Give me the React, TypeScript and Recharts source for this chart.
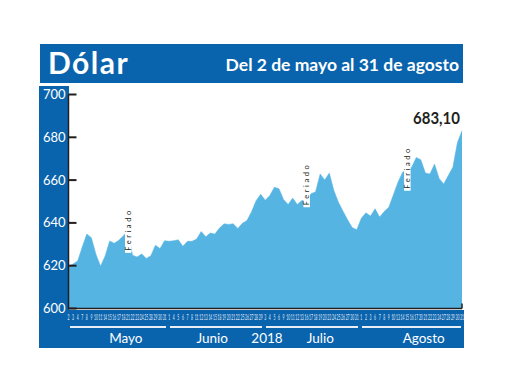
import { Area, AreaChart, ReferenceDot, XAxis, YAxis } from 'recharts'

// business days shown on the axis, per month
const months = ['Mayo', 'Junio', 'Julio', 'Agosto']
const monthNums = [5, 6, 7, 8]
const mayDays = [2, 3, 4, 7, 8, 9, 10, 11, 14, 15, 16, 17, 18, 21, 22, 23, 24, 25, 28, 29, 30, 31]
const junDays = [1, 4, 5, 6, 7, 8, 11, 12, 13, 14, 15, 18, 19, 20, 21, 22, 25, 26, 27, 28, 29]
const julDays = [3, 4, 5, 6, 9, 10, 11, 12, 13, 16, 17, 18, 19, 20, 23, 24, 25, 26, 27, 30, 31]
const augDays = [1, 2, 3, 6, 7, 8, 9, 10, 13, 14, 15, 16, 17, 20, 21, 22, 23, 24, 27, 28, 29, 30, 31]

// dólar observado (pesos)
const mayValues = [
  619.8, 620.8, 622.2, 628.7, 634.8, 633.1, 625.4, 619.8, 624.5, 631.6, 630.5,
  631.9, 634.0, 636.5, 624.9, 624.1, 625.5, 623.4, 624.7, 629.6, 628.0, 631.7,
]
const junValues = [
  631.4, 631.7, 632.1, 629.1, 631.4, 631.4, 632.5, 636.0, 633.5, 635.3, 634.8,
  637.6, 639.6, 639.3, 639.6, 637.4, 639.8, 641.1, 645.2, 650.4, 653.4,
]
const julValues = [
  650.6, 652.8, 656.7, 656.0, 650.9, 648.6, 651.6, 648.6, 650.5, 650.5, 653.6,
  654.5, 662.9, 660.1, 663.3, 655.1, 649.7, 645.5, 641.5, 637.8, 636.8,
]
const augValues = [
  642.2, 644.7, 643.2, 646.6, 642.7, 645.3, 647.3, 653.1, 659.0, 663.6, 665.2,
  666.0, 670.6, 669.5, 663.3, 662.9, 667.5, 660.8, 658.2, 662.1, 666.0, 677.6, 683.1,
]

const yTicks = [600, 620, 640, 660, 680, 700]
const feriados = [
  { key: '21/5', y: 636.3 },
  { key: '16/7', y: 657.6 },
  { key: '15/8', y: 665.3 },
]
const lastLabel = '683,10'
const yearLabel = '2018'
const title = 'Dólar'
const subtitle = 'Del 2 de mayo al 31 de agosto'

const dayLists = [mayDays, junDays, julDays, augDays]
const valueLists = [mayValues, junValues, julValues, augValues]

const data = dayLists.flatMap((days, m) =>
  days.map((d, i) => ({ key: `${d}/${monthNums[m]}`, day: d, value: valueLists[m][i] })),
)
const last = data[data.length - 1]

// layout
const W = 520
const H = 390
const PLOT_LEFT = 68.5
const PLOT_RIGHT = 462
const PLOT_TOP = 94.5
const PLOT_BOTTOM = 308.5
const X_AXIS_H = 30
const BLUE = '#0a64ad'
const FILL = '#56b4e3'
const INK = '#231f20'
const FONT = "Lato, 'Open Sans', sans-serif"
const monthLabelShift = [8, -4, 8, 12]

const step = (PLOT_RIGHT - PLOT_LEFT) / (data.length - 1)
const xAt = (i: number) => PLOT_LEFT + i * step

const monthSpans = dayLists.map((days, m) => {
  const first = dayLists.slice(0, m).reduce((s, d) => s + d.length, 0)
  const lastIdx = first + days.length - 1
  const x1 = xAt(first) + 1
  const x2 = Math.min(xAt(lastIdx) + 1.5, PLOT_RIGHT - 1)
  return { name: months[m], x1, x2 }
})

function YTick({ x, y, payload }: any) {
  return (
    <g>
      <line x1={x} x2={x + 8} y1={y} y2={y} stroke={INK} strokeWidth={2} />
      <text x={x - 3} y={y + 4.5} textAnchor="end" fill="#fff" fontSize={13} fontFamily={FONT}>
        {payload.value}
      </text>
    </g>
  )
}

function XTick({ x, y, payload, index }: any) {
  const label = String(payload.value).split('/')[0]
  const isLast = index === data.length - 1
  return (
    <g>
      {isLast && <line x1={x} x2={x} y1={y - 5} y2={y} stroke={INK} strokeWidth={1.5} />}
      {/* squeeze the day numbers so that all 87 fit side by side */}
      <text
        transform={`translate(${x} ${y + 11.5}) scale(0.42 1)`}
        textAnchor="middle"
        fill="#e6eef8"
        fontSize={8}
        fontFamily={FONT}
      >
        {label}
      </text>
    </g>
  )
}

function FeriadoMark({ cx, cy }: any) {
  return (
    <g>
      <rect x={cx - 3} y={cy - 22} width={6.5} height={44} fill="#fff" />
      <text
        x={cx + 2.8}
        y={cy}
        transform={`rotate(-90 ${cx + 2.8} ${cy})`}
        textAnchor="middle"
        fontSize={7.5}
        fontFamily={FONT}
        fill={INK}
        textLength={40}
        lengthAdjust="spacing"
      >
        Feriado
      </text>
    </g>
  )
}

function LastValue({ cx, cy }: any) {
  return (
    <text
      x={cx - 2}
      y={cy - 7}
      textAnchor="end"
      fontSize={17}
      fontWeight="bold"
      fontFamily={FONT}
      fill={INK}
      textLength={47}
      lengthAdjust="spacingAndGlyphs"
    >
      {lastLabel}
    </text>
  )
}

export default function App() {
  return (
    <div
      style={{
        position: 'fixed',
        left: 0,
        top: 0,
        width: W,
        height: H,
        background: '#fff',
        fontFamily: FONT,
      }}
    >
      {/* title bar */}
      <div
        style={{
          position: 'absolute',
          left: 40,
          top: 44,
          width: 423,
          height: 39,
          background: BLUE,
          color: '#fff',
        }}
      >
        <div style={{ position: 'absolute', left: 8, top: 0, fontSize: 30, fontWeight: 700, lineHeight: '37px', letterSpacing: 1.5 }}>
          {title}
        </div>
        <div style={{ position: 'absolute', right: 4, top: 9, fontSize: 17.5, fontWeight: 700, lineHeight: '24px' }}>
          {subtitle}
        </div>
      </div>
      {/* blue frame: left column + bottom band */}
      <div style={{ position: 'absolute', left: 39, top: 86, width: PLOT_LEFT - 39, height: 262, background: BLUE }} />
      <div style={{ position: 'absolute', left: 39, top: PLOT_BOTTOM + 1, width: 425, height: 348 - PLOT_BOTTOM - 1, background: BLUE }} />
      {/* month rules and names */}
      {monthSpans.map((s, i) => (
        <div key={s.name}>
          <div
            style={{
              position: 'absolute',
              left: s.x1,
              top: 326,
              width: s.x2 - s.x1,
              height: 1.5,
              background: '#e6eef8',
            }}
          />
          <div
            style={{
              position: 'absolute',
              left: (s.x1 + s.x2) / 2 + monthLabelShift[i] - 40,
              width: 80,
              top: 330,
              textAlign: 'center',
              color: '#fff',
              fontSize: 13.5,
              lineHeight: '16px',
            }}
          >
            {s.name}
          </div>
        </div>
      ))}
      <div
        style={{
          position: 'absolute',
          left: 267 - 30,
          width: 60,
          top: 330,
          textAlign: 'center',
          color: '#fff',
          fontSize: 13.5,
          lineHeight: '16px',
        }}
      >
        {yearLabel}
      </div>
      <div style={{ position: 'absolute', left: 0, top: 0 }}>
        <AreaChart
          width={W}
          height={H}
          data={data}
          margin={{ top: PLOT_TOP, right: W - PLOT_RIGHT, bottom: H - PLOT_BOTTOM - X_AXIS_H, left: 0 }}
        >
          <XAxis
            dataKey="key"
            interval={0}
            height={X_AXIS_H}
            tickSize={0}
            tickMargin={0}
            axisLine={{ stroke: INK, strokeWidth: 1.5 }}
            tick={<XTick />}
          />
          <YAxis
            type="number"
            domain={[600, 700]}
            ticks={yTicks}
            width={PLOT_LEFT}
            tickSize={0}
            tickMargin={0}
            axisLine={{ stroke: INK, strokeWidth: 1.5 }}
            tick={<YTick />}
          />
          <Area
            type="linear"
            dataKey="value"
            fill={FILL}
            fillOpacity={1}
            stroke={FILL}
            strokeWidth={0.5}
            isAnimationActive={false}
          />
          {feriados.map((f) => (
            <ReferenceDot key={f.key} x={f.key} y={f.y} shape={<FeriadoMark />} />
          ))}
          <ReferenceDot x={last.key} y={last.value} shape={<LastValue />} />
        </AreaChart>
      </div>
    </div>
  )
}
